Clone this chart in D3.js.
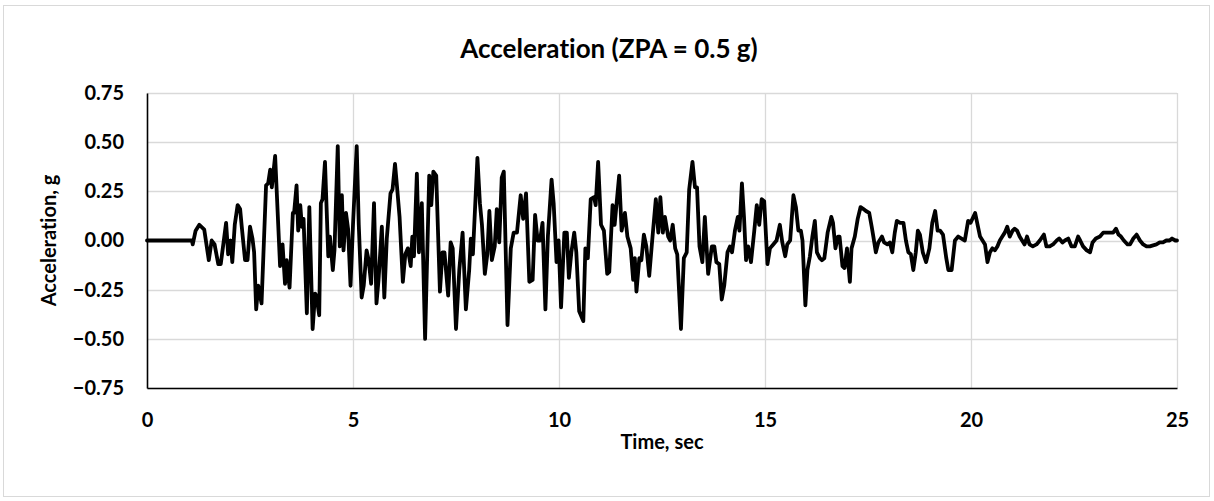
<!DOCTYPE html>
<html><head><meta charset="utf-8">
<script src="https://cdn.jsdelivr.net/npm/d3@7"></script>
<style>body{margin:0;background:#fff}svg{display:block}text{font-family:Lato,"Open Sans",sans-serif;font-weight:bold;fill:#000;font-variant-ligatures:none;font-feature-settings:"liga" 0}</style>
</head><body>
<script>
const chartTitle = "Acceleration (ZPA = 0.5 g)";
const xTitle = "Time, sec";
const yTitle = "Acceleration, g";
const xTicks = [0, 5, 10, 15, 20, 25];
const yTicks = [-0.75, -0.5, -0.25, 0, 0.25, 0.5, 0.75];
const time = [0,1.09,1.11,1.18,1.27,1.39,1.50,1.57,1.64,1.73,1.79,1.92,1.97,2.03,2.07,2.13,2.20,2.26,2.30,2.38,2.44,2.50,2.56,2.60,2.65,2.70,2.78,2.89,2.94,2.99,3.03,3.11,3.23,3.29,3.35,3.39,3.46,3.54,3.57,3.63,3.67,3.72,3.76,3.80,3.88,3.94,4.02,4.08,4.11,4.18,4.22,4.26,4.32,4.40,4.44,4.51,4.55,4.63,4.68,4.73,4.77,4.83,4.88,4.94,5.00,5.09,5.14,5.21,5.26,5.33,5.38,5.44,5.51,5.57,5.62,5.70,5.76,5.82,5.91,5.96,6.02,6.07,6.13,6.21,6.27,6.33,6.40,6.44,6.48,6.55,6.60,6.67,6.75,6.85,6.90,6.95,7.02,7.11,7.17,7.22,7.31,7.37,7.42,7.50,7.58,7.66,7.74,7.82,7.86,7.91,8.02,8.08,8.13,8.20,8.26,8.31,8.37,8.44,8.49,8.55,8.61,8.66,8.75,8.83,8.90,8.98,9.07,9.13,9.20,9.28,9.36,9.42,9.48,9.54,9.60,9.67,9.73,9.82,9.87,9.94,9.99,10.05,10.13,10.19,10.24,10.30,10.37,10.42,10.49,10.59,10.64,10.70,10.77,10.85,10.89,10.95,11.02,11.09,11.17,11.22,11.30,11.35,11.46,11.52,11.60,11.66,11.74,11.80,11.84,11.88,11.95,12.00,12.06,12.12,12.19,12.27,12.35,12.41,12.46,12.52,12.57,12.65,12.70,12.76,12.82,12.87,12.96,13.03,13.10,13.16,13.24,13.30,13.35,13.41,13.48,13.54,13.62,13.71,13.77,13.82,13.89,13.95,14.01,14.09,14.15,14.20,14.27,14.34,14.38,14.44,14.49,14.54,14.59,14.66,14.74,14.80,14.86,14.92,14.98,15.06,15.12,15.20,15.28,15.36,15.42,15.49,15.54,15.61,15.69,15.75,15.81,15.87,15.91,15.98,16.03,16.09,16.15,16.21,16.26,16.33,16.38,16.44,16.52,16.61,16.65,16.71,16.77,16.81,16.88,16.93,16.99,17.06,17.10,17.18,17.25,17.32,17.39,17.45,17.53,17.59,17.63,17.69,17.75,17.84,17.89,17.97,18.03,18.09,18.15,18.20,18.28,18.36,18.42,18.48,18.54,18.60,18.66,18.71,18.76,18.83,18.91,18.99,19.06,19.13,19.19,19.25,19.32,19.40,19.45,19.53,19.61,19.69,19.77,19.85,19.93,19.99,20.10,20.15,20.22,20.28,20.34,20.40,20.46,20.52,20.58,20.64,20.70,20.76,20.82,20.88,20.94,21.01,21.06,21.12,21.18,21.24,21.30,21.36,21.42,21.50,21.59,21.67,21.77,21.83,21.91,21.99,22.08,22.14,22.22,22.28,22.36,22.44,22.52,22.60,22.65,22.72,22.81,22.89,22.95,23.03,23.13,23.21,23.29,23.37,23.45,23.52,23.58,23.64,23.71,23.80,23.86,23.94,24.02,24.10,24.18,24.26,24.34,24.42,24.50,24.58,24.66,24.74,24.82,24.88,24.96,25.00];
const accel = [0,0,-0.02,0.05,0.08,0.055,-0.10,0.0,-0.02,-0.12,-0.12,0.09,-0.07,0.0,-0.11,0.08,0.18,0.16,0.07,-0.10,-0.10,0.07,0.01,-0.06,-0.35,-0.23,-0.32,0.28,0.29,0.36,0.27,0.43,-0.13,-0.02,-0.22,-0.10,-0.24,0.14,0.14,0.28,0.05,0.18,0.07,0.11,-0.37,0.17,-0.45,-0.27,-0.28,-0.38,0.19,0.21,0.40,-0.08,0.02,-0.15,-0.05,0.48,-0.03,0.23,-0.05,0.14,0.06,-0.23,0.08,0.48,0.08,-0.29,-0.23,-0.05,-0.10,-0.22,0.19,-0.32,-0.20,0.07,-0.29,0.01,0.24,0.26,0.39,0.27,0.12,-0.21,-0.07,-0.04,-0.13,0.02,-0.08,0.34,-0.06,0.19,-0.50,0.33,0.18,0.35,0.33,-0.26,-0.06,-0.06,-0.28,-0.01,-0.04,-0.45,-0.15,0.04,-0.35,-0.15,0.01,-0.07,0.42,0.19,0.08,-0.17,-0.07,0.15,-0.10,-0.03,0.16,-0.01,0.32,0.35,-0.43,-0.04,0.04,0.04,0.23,0.11,0.24,-0.21,-0.20,0.13,0.0,0.0,0.09,-0.35,0.02,0.31,0.19,-0.11,0.0,-0.34,0.04,0.04,-0.19,-0.06,0.04,-0.06,-0.36,-0.41,-0.04,-0.09,0.21,0.22,0.18,0.40,0.08,0.05,-0.17,-0.16,0.18,0.08,0.33,0.05,0.14,0.02,-0.04,-0.20,-0.09,-0.26,-0.09,-0.10,0.03,-0.03,-0.18,0.02,0.21,0.04,0.22,0.04,0.12,0.02,0.0,0.08,-0.04,-0.07,-0.45,-0.09,-0.06,0.26,0.40,0.27,0.27,-0.03,-0.11,0.12,-0.17,-0.03,-0.03,-0.11,-0.12,-0.30,-0.23,-0.06,-0.03,-0.06,0.05,0.12,0.05,0.29,0.12,-0.10,-0.03,-0.11,0.05,0.18,0.08,0.21,0.20,-0.12,-0.04,-0.02,0.0,0.08,-0.01,-0.08,-0.02,0.0,0.23,0.17,0.05,0.05,0.0,-0.33,-0.15,-0.08,0.02,0.10,-0.06,-0.09,-0.10,-0.09,0.04,0.12,0.09,-0.04,0.02,0.02,-0.13,-0.14,-0.04,-0.21,-0.04,0.02,0.11,0.17,0.16,0.15,0.14,0.07,0.02,-0.06,-0.01,0.02,-0.01,-0.02,-0.01,-0.06,0.04,0.10,0.09,0.09,0.0,-0.06,-0.07,-0.15,-0.06,0.05,0.03,-0.06,-0.11,-0.04,0.09,0.15,0.05,0.05,0.03,-0.09,-0.15,-0.15,0.0,0.02,0.01,0.0,0.10,0.09,0.14,0.09,0.02,0.0,-0.02,-0.11,-0.06,-0.04,-0.05,-0.03,0.0,0.02,0.04,0.07,0.02,0.05,0.06,0.05,0.02,0.0,-0.02,0.02,-0.02,-0.03,-0.02,0.0,0.03,-0.03,-0.03,-0.02,0.0,0.01,-0.01,0.0,0.01,-0.03,-0.03,0.02,0.0,-0.03,-0.05,-0.06,-0.01,0.01,0.02,0.04,0.04,0.04,0.04,0.06,0.03,0.02,0.0,-0.02,-0.02,0.01,0.03,0.0,-0.02,-0.03,-0.03,-0.025,-0.02,-0.01,-0.01,0.0,0.0,0.01,0.0,0.0];

const W = 1214, H = 501;
const m = {left:147, right:1177, top:93, bottom:388};
const svg = d3.select("body").append("svg").attr("width", W).attr("height", H);
svg.append("rect").attr("x",3.5).attr("y",5.5).attr("width",1206).attr("height",491)
  .attr("fill","#fff").attr("stroke","#d9d9d9").attr("stroke-width",1);

const x = d3.scaleLinear().domain([0,25]).range([m.left, m.right]);
const y = d3.scaleLinear().domain([-0.75,0.75]).range([m.bottom, m.top]);

// gridlines
svg.append("g").selectAll("line").data(yTicks).join("line")
  .attr("x1", m.left).attr("x2", m.right)
  .attr("y1", d=>Math.round(y(d))+0.5).attr("y2", d=>Math.round(y(d))+0.5)
  .attr("stroke","#d9d9d9").attr("stroke-width",1.3);
svg.append("g").selectAll("line").data(xTicks.filter(d=>d>0)).join("line")
  .attr("y1", m.top).attr("y2", m.bottom)
  .attr("x1", d=>Math.round(x(d))+0.5).attr("x2", d=>Math.round(x(d))+0.5)
  .attr("stroke","#d9d9d9").attr("stroke-width",1.3);

// axes
const xAxis = d3.axisBottom(x).tickValues(xTicks).tickSize(0).tickPadding(25).tickFormat(d3.format("d"));
const gx = svg.append("g").attr("transform",`translate(0,${y(-0.75)})`).call(xAxis);
gx.select(".domain").attr("stroke","#000").attr("stroke-width",1.6);
gx.selectAll("text").style("font-size","20px").attr("font-family","Lato");
const yAxis = d3.axisLeft(y).tickValues(yTicks).tickSize(0).tickPadding(23).tickFormat(d3.format(".2f"));
const gy = svg.append("g").attr("transform",`translate(${m.left},0)`).call(yAxis);
gy.select(".domain").attr("stroke","#000").attr("stroke-width",1.6);
gy.selectAll("text").style("font-size","20px").attr("font-family","Lato");

// data line
const data = time.map((t,i)=>({t, a: accel[i]}));
svg.append("path").datum(data)
  .attr("d", d3.line().x(d=>x(d.t)).y(d=>y(d.a)))
  .attr("fill","none").attr("stroke","#000").attr("stroke-width",3.8)
  .attr("stroke-linejoin","round").attr("stroke-linecap","round");

// titles
svg.append("text").attr("x",609).attr("y",58).attr("text-anchor","middle")
  .style("font-size","26px").text(chartTitle);
svg.append("text").attr("x",(m.left+m.right)/2).attr("y",449).attr("text-anchor","middle")
  .style("font-size","20px").text(xTitle);
svg.append("text").attr("transform",`translate(56,${(m.top+m.bottom)/2}) rotate(-90)`).attr("text-anchor","middle")
  .style("font-size","20px").text(yTitle);
</script>
</body></html>
